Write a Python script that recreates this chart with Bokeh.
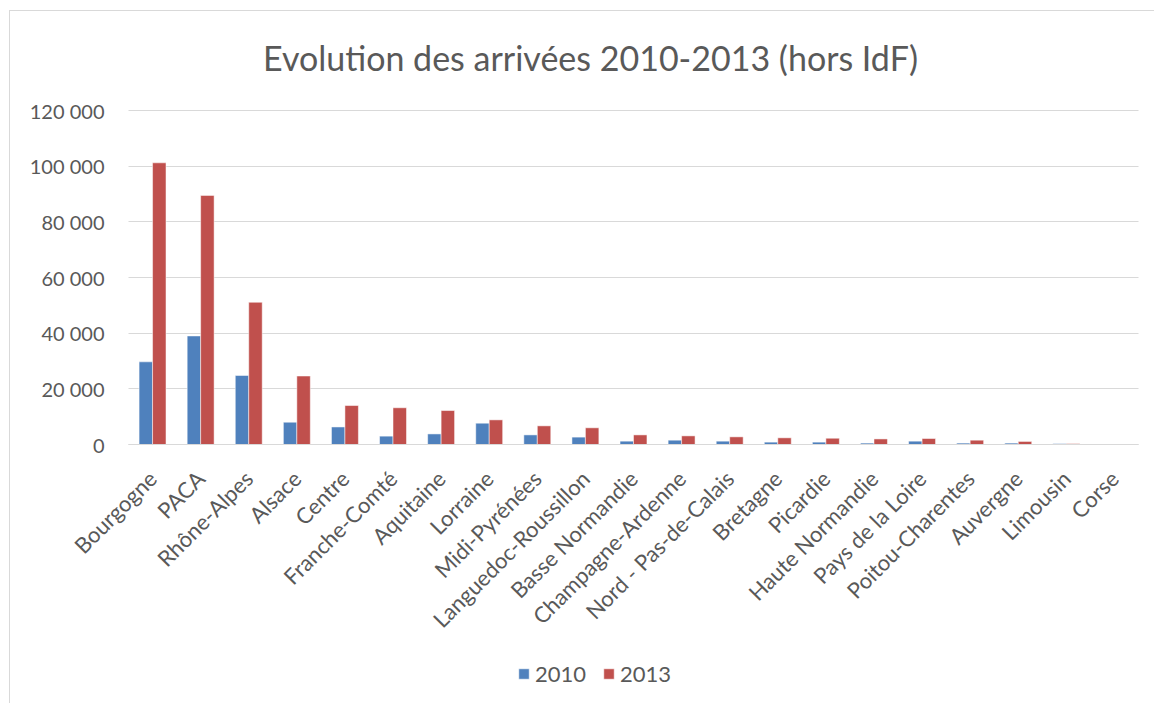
from bokeh.plotting import figure
from bokeh.models import (ColumnDataSource, Range1d, FixedTicker,
                          Label, Legend, LegendItem)
from bokeh.transform import dodge
from bokeh.embed import file_html
from bokeh.resources import INLINE
import math

regions = ["Bourgogne", "PACA", "Rhône-Alpes", "Alsace", "Centre", "Franche-Comté",
           "Aquitaine", "Lorraine", "Midi-Pyrénées", "Languedoc-Roussillon",
           "Basse Normandie", "Champagne-Ardenne", "Nord - Pas-de-Calais", "Bretagne",
           "Picardie", "Haute Normandie", "Pays de la Loire", "Poitou-Charentes",
           "Auvergne", "Limousin", "Corse"]
arr_2010 = [29700, 39000, 24800, 8000, 6300, 3000, 3800, 7650, 3450, 2650,
            1200, 1550, 1200, 850, 850, 500, 1200, 500, 500, 300, 100]
arr_2013 = [101200, 89500, 51100, 24600, 14000, 13200, 12200, 8850, 6700, 6000,
            3450, 3100, 2750, 2400, 2250, 2000, 2150, 1550, 1100, 300, 150]
y_ticks = [0, 20000, 40000, 60000, 80000, 100000, 120000]
y_tick_labels = ["0", "20 000", "40 000", "60 000", "80 000", "100 000", "120 000"]
series_names = ["2010", "2013"]
colors = ["#4f81bd", "#c0504d"]
title_text = "Evolution des arrivées 2010-2013 (hors IdF)"

FONT = "Lato"
GREY = "#595959"
BORDER = "#d9d9d9"

# ---- layout geometry (page pixels) ----
OX, OY = 10, 11                 # canvas origin (after margin + chart border)
W, H = 1155 - OX, 704 - OY      # figure size
PA_LEFT, PA_RIGHT = 128, 1138   # plot area horizontal extent
PA_TOP, PA_BOTTOM = 110, 444    # pixel rows of 120 000 and 0
n = len(regions)
px_per_cat = (PA_RIGHT - PA_LEFT) / n
x_lo = -0.5 - (PA_LEFT - OX) / px_per_cat
x_hi = (n - 0.5) + (OX + W - PA_RIGHT) / px_per_cat
vmin, vmax = y_ticks[0], y_ticks[-1]
per_px = (vmax - vmin) / (PA_BOTTOM - PA_TOP)
y_lo = vmin - (OY + H - PA_BOTTOM) * per_px
y_hi = vmax + (PA_TOP - OY) * per_px

idx = list(range(n))
src = ColumnDataSource(dict(i=idx, region=regions, a2010=arr_2010, a2013=arr_2013))

p = figure(width=W, height=H, output_backend="svg", toolbar_location=None,
           x_range=Range1d(x_lo, x_hi), y_range=Range1d(y_lo, y_hi),
           min_border_left=0, min_border_top=0, min_border_right=0,
           min_border_bottom=0)
p.margin = (OY - 1, 0, 0, OX - 1)
p.styles = {"border-top": "1px solid " + BORDER, "border-left": "1px solid " + BORDER}
p.outline_line_color = None
p.background_fill_color = "white"
p.border_fill_color = "white"

r1 = p.vbar(x=dodge("i", -0.14), top="a2010", bottom=0, width=0.28, source=src,
            fill_color=colors[0], line_color="white", line_width=0.5)
r2 = p.vbar(x=dodge("i", 0.14), top="a2013", bottom=0, width=0.28, source=src,
            fill_color=colors[1], line_color="white", line_width=0.5)

# ---- y axis ----
p.yaxis.fixed_location = -0.5
p.yaxis.ticker = FixedTicker(ticks=y_ticks)
p.yaxis.major_label_overrides = {t: l for t, l in zip(y_ticks, y_tick_labels)}
p.yaxis.axis_line_color = None
p.yaxis.major_tick_line_color = None
p.yaxis.major_tick_out = 0
p.yaxis.major_tick_in = 0
p.yaxis.minor_tick_line_color = None
p.yaxis.major_label_text_font = FONT
p.yaxis.major_label_text_font_size = "20px"
p.yaxis.major_label_text_color = GREY
p.yaxis.major_label_standoff = 24

# ---- x axis ----
p.xaxis.fixed_location = 0
p.xaxis.bounds = (-0.5, n - 0.5)
p.xaxis.ticker = FixedTicker(ticks=idx)
p.xaxis.major_label_overrides = {i: r for i, r in zip(idx, regions)}
p.xaxis.axis_line_color = BORDER
p.xaxis.axis_line_width = 1
p.xaxis.major_tick_line_color = None
p.xaxis.major_tick_out = 0
p.xaxis.major_tick_in = 0
p.xaxis.minor_tick_line_color = None
p.xaxis.major_label_orientation = math.pi / 4
p.xaxis.major_label_text_font = FONT
p.xaxis.major_label_text_font_size = "22px"
p.xaxis.major_label_text_color = GREY
p.xaxis.major_label_standoff = 30

# ---- grid ----
p.xgrid.grid_line_color = None
p.ygrid.grid_line_color = BORDER
p.ygrid.grid_line_width = 1
try:
    p.ygrid.cross_bounds = (-0.5, n - 0.5)
except Exception:
    p.ygrid.grid_line_color = None
    p.segment(x0=[-0.5] * len(y_ticks), x1=[n - 0.5] * len(y_ticks),
              y0=y_ticks, y1=y_ticks, line_color=BORDER, line_width=1, level="underlay")

# ---- title ----
p.add_layout(Label(x=590 - OX, y=OY + H - 57, x_units="screen", y_units="screen",
                   text=title_text, text_align="center", text_baseline="middle",
                   text_font=FONT, text_font_size="34px", text_color=GREY))

# ---- legend ----
legend = Legend(items=[LegendItem(label=series_names[0], renderers=[r1]),
                       LegendItem(label=series_names[1], renderers=[r2])],
                orientation="horizontal", location=(517 - OX, OY + H - 687),
                label_text_font=FONT, label_text_font_size="22px",
                label_text_color=GREY, glyph_width=13, glyph_height=13,
                label_standoff=5, spacing=16, padding=0, margin=0,
                border_line_color=None, background_fill_alpha=0)
p.add_layout(legend, "center")

open("out.html", "w").write(file_html(p, INLINE))
